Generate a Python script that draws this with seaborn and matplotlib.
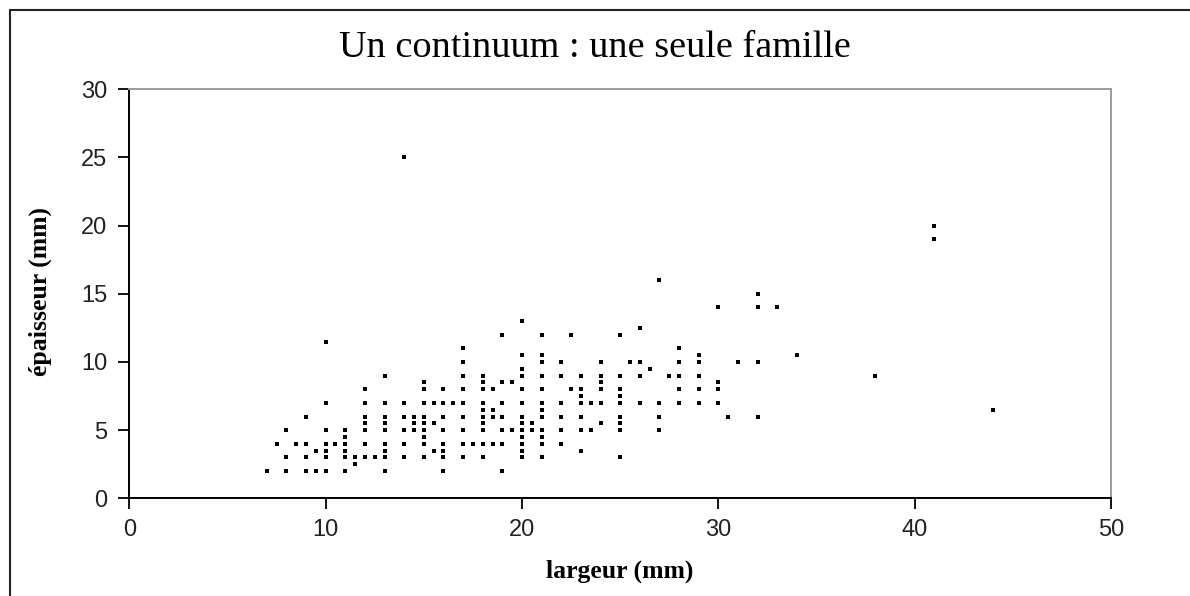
import matplotlib
matplotlib.use("Agg")
import matplotlib.pyplot as plt
import seaborn as sns
import pandas as pd
from matplotlib.lines import Line2D

# ---- data, listed column by column ----
largeur = (
    [7] + [7.5] + [8] * 3 + [8.5] + [9] * 4 + [9.5] * 2 + [10] * 7 + [10.5]
    + [11] * 6 + [11.5] * 2 + [12] * 7 + [12.5] + [13] * 9 + [14] * 6
    + [14.5] * 3 + [15] * 9 + [15.5] * 3 + [16] * 8 + [16.5] + [17] * 9
    + [17.5] + [18] * 10 + [18.5] * 4 + [19] * 7 + [19.5] * 2 + [20] * 13
    + [20.5] * 2 + [21] * 12 + [22] * 6 + [22.5] * 2 + [23] * 7 + [23.5] * 2
    + [24] * 6 + [25] * 9 + [25.5] + [26] * 4 + [26.5] + [27] * 4 + [27.5]
    + [28] * 5 + [29] * 5 + [30] * 4 + [30.5] + [31] + [32] * 4 + [33] + [34]
    + [38] + [41] * 2 + [44]
)
epaisseur = (
    [2] + [4] + [2, 3, 5] + [4] + [2, 3, 4, 6] + [2, 3.5]
    + [11.5, 7, 5, 4, 3.5, 3, 2] + [4]
    + [5, 4.5, 4, 3.5, 3, 2] + [3, 2.5] + [8, 7, 6, 5.5, 5, 4, 3] + [3]
    + [9, 7, 6, 5.5, 5, 4, 3.5, 3, 2] + [25, 7, 6, 5, 4, 3]
    + [6, 5.5, 5] + [8.5, 8, 7, 6, 5.5, 5, 4.5, 4, 3] + [7, 5.5, 3.5]
    + [8, 7, 6, 5, 4, 3.5, 3, 2] + [7] + [11, 10, 9, 8, 7, 6, 5, 4, 3]
    + [4] + [9, 8.5, 8, 7, 6.5, 6, 5.5, 5, 4, 3] + [8, 6.5, 6, 4]
    + [12, 8.5, 7, 6, 5, 4, 2] + [8.5, 5]
    + [13, 10.5, 9.5, 9, 8, 7, 6, 5.5, 5, 4.5, 4, 3.5, 3]
    + [5.5, 5] + [12, 10.5, 10, 9, 8, 7, 6.5, 6, 5, 4.5, 4, 3]
    + [10, 9, 7, 6, 5, 4] + [12, 8] + [9, 8, 7.5, 7, 6, 5, 3.5] + [7, 5]
    + [10, 9, 8.5, 8, 7, 5.5] + [12, 9, 8, 7.5, 7, 6, 5.5, 5, 3] + [10]
    + [12.5, 10, 9, 7] + [9.5] + [16, 7, 6, 5] + [9]
    + [11, 10, 9, 8, 7] + [10.5, 10, 9, 8, 7] + [14, 8.5, 8, 7] + [6] + [10]
    + [15, 14, 10, 6] + [14] + [10.5]
    + [9] + [20, 19] + [6.5]
)
x_ticks = [0, 10, 20, 30, 40, 50]
y_ticks = [0, 5, 10, 15, 20, 25, 30]
title_text = "Un continuum : une seule famille"
x_label = "largeur (mm)"
y_label = "épaisseur (mm)"

df = pd.DataFrame({"largeur": largeur, "epaisseur": epaisseur})

sns.set_theme(style="white")
W, H = 1190, 596
fig = plt.figure(figsize=(W / 100, H / 100), dpi=100)
ax = fig.add_axes([129.3 / W, 1 - 498.3 / H, (1111 - 129.3) / W, (498.3 - 89.3) / H])

sns.scatterplot(data=df, x="largeur", y="epaisseur", ax=ax, marker="s",
                s=8, color="black", linewidth=0, legend=False)

ax.set_xlim(0, 50)
ax.set_ylim(0, 30)
ax.set_xticks(x_ticks)
ax.set_yticks(y_ticks)
tick_font = ["Liberation Sans Narrow", "DejaVu Sans Condensed", "Liberation Sans"]
ax.set_xticklabels([str(t) for t in x_ticks], family=tick_font, fontsize=17,
                   color="#222222")
ax.set_yticklabels([str(t) for t in y_ticks], family=tick_font, fontsize=17,
                   color="#222222")
ax.tick_params(axis="both", direction="out", length=8, width=1.3, color="black",
               bottom=True, left=True)
ax.tick_params(axis="x", pad=7)
ax.tick_params(axis="y", pad=8)

for side in ("left", "bottom"):
    ax.spines[side].set_color("black")
    ax.spines[side].set_linewidth(1.4)
for side in ("top", "right"):
    ax.spines[side].set_color("#9a9a9a")
    ax.spines[side].set_linewidth(1.4)
ax.grid(False)

ax.set_xlabel(x_label, family="Liberation Serif", fontweight="bold", fontsize=18.5,
              color="black")
ax.set_ylabel(y_label, family="Liberation Serif", fontweight="bold", fontsize=18.5,
              color="black")
ax.xaxis.label.set_va("center")
ax.yaxis.label.set_va("center")
ax.xaxis.set_label_coords((620 - 129.3) / 981.7, (498.3 - 571) / 409)
ax.yaxis.set_label_coords((40 - 129.3) / 981.7, (498.3 - 292) / 409)

fig.text(0.5, 1 - 48 / H, title_text, ha="center", va="center",
         family="Liberation Serif", fontsize=27.5, color="black")

# outer chart frame (left and top edges visible)
fx = 10 / W
fy = 1 - 10 / H
fig.add_artist(Line2D([fx, fx], [0, fy], transform=fig.transFigure,
                      color="#222222", linewidth=1.5))
fig.add_artist(Line2D([fx, 1], [fy, fy], transform=fig.transFigure,
                      color="#222222", linewidth=1.5))

fig.savefig("out.png", dpi=100, facecolor="white")
